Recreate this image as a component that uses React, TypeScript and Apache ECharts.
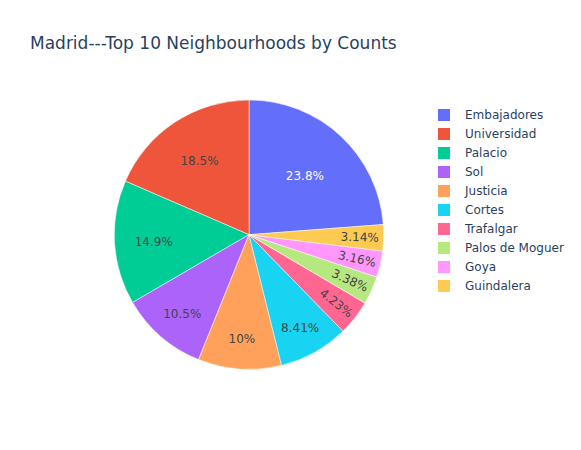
import { useEffect, useRef } from "react";
import * as echarts from "echarts";

const names = [
  "Embajadores",
  "Universidad",
  "Palacio",
  "Sol",
  "Justicia",
  "Cortes",
  "Trafalgar",
  "Palos de Moguer",
  "Goya",
  "Guindalera",
];
const shares = [23.8, 18.5, 14.9, 10.5, 10.0, 8.41, 4.23, 3.38, 3.16, 3.14];
const colors = [
  "#636efa",
  "#ef553b",
  "#00cc96",
  "#ab63fa",
  "#ffa15a",
  "#19d3f3",
  "#ff6692",
  "#b6e880",
  "#ff97ff",
  "#fecb52",
];

const FONT = "'DejaVu Sans', Verdana, sans-serif";
const CX = 249;
const CY = 234.7;
const R = 134.7;

export default function App() {
  const ref = useRef<HTMLDivElement>(null);

  useEffect(() => {
    const el = ref.current;
    if (!el) return;
    const chart = echarts.init(el, undefined, { renderer: "svg" });

    const total = shares.reduce((a, b) => a + b, 0);
    // plotly: first slice ends at 12 o'clock, the rest go counterclockwise
    const start = 90 - (360 * shares[0]) / total;
    const mids: number[] = [];
    let acc = 0;
    shares.forEach((v) => {
      mids.push(start + (360 * (acc + v / 2)) / total);
      acc += v;
    });
    const small = (i: number) => shares[i] / total < 0.05;

    chart.setOption({
      animation: false,
      backgroundColor: "#fff",
      title: {
        text: "Madrid---Top 10 Neighbourhoods by Counts",
        left: 30,
        top: 34,
        padding: 0,
        textStyle: { color: "#2a3f5f", fontSize: 17, fontWeight: "normal", fontFamily: FONT },
      },
      legend: {
        orient: "vertical",
        left: 438,
        top: 109,
        padding: 0,
        icon: "rect",
        itemWidth: 12,
        itemHeight: 12,
        itemGap: 7,
        itemStyle: { borderWidth: 0 },
        textStyle: { color: "#2a3f5f", fontSize: 12, fontFamily: FONT, padding: [0, 0, 0, 10] },
        data: names,
      },
      series: [
        {
          type: "pie",
          center: [CX, CY],
          radius: R,
          clockwise: false,
          startAngle: start,
          avoidLabelOverlap: false,
          itemStyle: { borderColor: "#ffffff", borderWidth: 0.5 },
          label: {
            position: "inside",
            fontSize: 12,
            fontFamily: FONT,
            formatter: (p: any) => `${+Number(p.value).toPrecision(3)}%`,
          },
          labelLine: { show: false },
          labelLayout: (p: any) => {
            const i = p.dataIndex;
            const share = shares[i] / total;
            const frac = Math.min(0.8, 0.85 - 1.1 * share);
            const d = (frac - 0.5) * R;
            // rotated labels shift in their own (radial) frame
            if (small(i)) return { dx: d, dy: 0 };
            const a = (mids[i] * Math.PI) / 180;
            return { dx: d * Math.cos(a), dy: -d * Math.sin(a) + 2 };
          },
          emphasis: { disabled: true },
          data: names.map((n, i) => ({
            name: n,
            value: shares[i],
            itemStyle: { color: colors[i] },
            label: {
              color: i === 0 ? "#ffffff" : "#444444",
              rotate: small(i) ? "radial" : 0,
            },
          })),
        },
      ],
    });

    return () => chart.dispose();
  }, []);

  return (
    <div
      ref={ref}
      style={{ position: "absolute", left: 0, top: 0, width: 581, height: 450 }}
    />
  );
}
